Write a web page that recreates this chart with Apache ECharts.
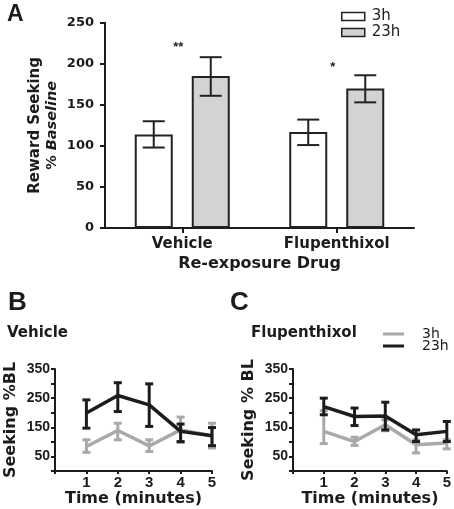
<!DOCTYPE html>
<html><head><meta charset="utf-8">
<script src="https://cdn.jsdelivr.net/npm/echarts@6/dist/echarts.min.js"></script>
<style>html,body{margin:0;padding:0;background:#fff}#c{width:454px;height:509px}</style>
</head><body><div id="c"></div>
<script>
// ---- Panel A data ----
const drugCats = ['Vehicle', 'Flupenthixol'];
const a3hMean = [114, 117];
const a3hLow = [98, 101];
const a3hHigh = [130, 132];
const a23hMean = [185, 170];
const a23hLow = [161, 153];
const a23hHigh = [208, 186];
const sigLabels = ['**', '*'];
const sigLevel = [220, 195];
const aTicks = [0, 50, 100, 150, 200, 250];

// ---- Panels B & C data ----
const minutes = [1, 2, 3, 4, 5];
const veh3hMean = [84, 139, 86, 141, 121];
const veh3hLow = [64, 107, 67, 98, 79];
const veh3hHigh = [107, 164, 107, 185, 164];
const veh23hMean = [199, 259, 227, 136, 121];
const veh23hLow = [147, 204, 153, 101, 87];
const veh23hHigh = [244, 303, 299, 161, 149];

const flu3hMean = [136, 101, 159, 90, 96];
const flu3hLow = [94, 88, 138, 62, 76];
const flu3hHigh = [207, 116, 176, 107, 107];
const flu23hMean = [221, 187, 189, 124, 136];
const flu23hLow = [193, 156, 141, 101, 101];
const flu23hHigh = [250, 216, 236, 141, 170];

const BOLD = 'DejaVu Sans';
const ARIAL = 'Liberation Sans';
const BLACK = '#1c1c1c';
const GREY = '#a9a9a9';

function zip3(a, b, c) { return a.map((v, i) => [v, b[i], c[i]]); }
function pairs(xs, ys) { return xs.map((v, i) => [v, ys[i]]); }

const BAR_W = 38, BAR_GAP = 19;
function barErr(offset) {
  return function (params, api) {
    const i = api.value(0);
    const lo = api.coord([i, api.value(1)]);
    const hi = api.coord([i, api.value(2)]);
    const x = lo[0] + offset, cap = 11;
    const st = { stroke: '#222', lineWidth: 2 };
    return { type: 'group', children: [
      { type: 'line', shape: { x1: x, y1: lo[1], x2: x, y2: hi[1] }, style: st },
      { type: 'line', shape: { x1: x - cap, y1: lo[1], x2: x + cap, y2: lo[1] }, style: st },
      { type: 'line', shape: { x1: x - cap, y1: hi[1], x2: x + cap, y2: hi[1] }, style: st }
    ] };
  };
}
function lineErr(color) {
  return function (params, api) {
    const lo = api.coord([api.value(0), api.value(1)]);
    const hi = api.coord([api.value(0), api.value(2)]);
    const x = lo[0], cap = 4;
    const st = { stroke: color, lineWidth: 3 };
    return { type: 'group', children: [
      { type: 'line', shape: { x1: x, y1: lo[1], x2: x, y2: hi[1] }, style: st },
      { type: 'line', shape: { x1: x - cap, y1: lo[1], x2: x + cap, y2: lo[1] }, style: st },
      { type: 'line', shape: { x1: x - cap, y1: hi[1], x2: x + cap, y2: hi[1] }, style: st }
    ] };
  };
}

const axLine = { show: true, onZero: false, lineStyle: { color: BLACK, width: 2 } };
const axTick = (len) => ({ show: true, length: len, lineStyle: { color: BLACK, width: 2 } });

function smallXAxis(gi) {
  return {
    gridIndex: gi, type: 'value', min: 0, max: 5, interval: 1,
    axisLine: axLine, axisTick: axTick(3), splitLine: { show: false },
    axisLabel: { margin: 4, color: BLACK, fontFamily: ARIAL, fontWeight: 'bold', fontSize: 15,
      formatter: v => (v === 0 ? '' : String(v)) },
    name: 'Time (minutes)', nameLocation: 'middle', nameGap: 20,
    nameTextStyle: { color: BLACK, fontFamily: BOLD, fontWeight: 'bold', fontSize: 16 }
  };
}
function smallYAxis(gi, nm) {
  return {
    gridIndex: gi, type: 'value', min: 0, max: 350, interval: 50,
    axisLine: axLine, axisTick: axTick(4), splitLine: { show: false },
    axisLabel: { margin: 5, color: BLACK, fontFamily: ARIAL, fontWeight: 'bold', fontSize: 14,
      formatter: v => (v % 100 === 50 ? String(v) : '') },
    name: nm, nameLocation: 'middle', nameGap: 36, nameRotate: 90,
    nameTextStyle: { color: BLACK, fontFamily: BOLD, fontWeight: 'bold', fontSize: 16 }
  };
}

const option = {
  animation: false,
  backgroundColor: '#fff',
  title: [
    { text: 'A', left: 7, top: 3, padding: 0, textStyle: { fontFamily: ARIAL, fontWeight: 'bold', fontSize: 23, color: BLACK } },
    { text: 'B', left: 8, top: 290, padding: 0, textStyle: { fontFamily: ARIAL, fontWeight: 'bold', fontSize: 26, color: BLACK } },
    { text: 'C', left: 230, top: 290, padding: 0, textStyle: { fontFamily: ARIAL, fontWeight: 'bold', fontSize: 26, color: BLACK } },
    { text: 'Vehicle', left: 7, top: 326, padding: 0, textStyle: { fontFamily: BOLD, fontWeight: 'bold', fontSize: 15, color: BLACK } },
    { text: 'Flupenthixol', left: 251, top: 326, padding: 0, textStyle: { fontFamily: BOLD, fontWeight: 'bold', fontSize: 15, color: BLACK } }
  ],
  legend: [
    { orient: 'vertical', left: 341, top: 9, padding: 0, itemWidth: 23, itemHeight: 8, itemGap: 1,
      icon: 'rect', selectedMode: false,
      data: [
        { name: '3h', itemStyle: { color: '#fff', borderColor: '#222', borderWidth: 1.5 } },
        { name: '23h', itemStyle: { color: '#d3d3d3', borderColor: '#222', borderWidth: 1.5 } }
      ],
      textStyle: { fontFamily: 'DejaVu Sans', fontSize: 15, color: BLACK, padding: [0, 0, 0, 2] } },
    { orient: 'vertical', left: 383, top: 327, padding: 0, itemWidth: 21, itemHeight: 3, itemGap: -2,
      icon: 'rect', selectedMode: false,
      data: [
        { name: '3h', itemStyle: { color: GREY, borderWidth: 0 } },
        { name: '23h', itemStyle: { color: BLACK, borderWidth: 0 } }
      ],
      textStyle: { fontFamily: 'DejaVu Sans', fontSize: 14, color: BLACK, padding: [0, 0, 0, 13] } }
  ],
  grid: [
    { left: 105, top: 22.7, width: 309, height: 205.3 },
    { left: 55, top: 369, width: 157, height: 102 },
    { left: 293, top: 369, width: 155, height: 102 }
  ],
  xAxis: [
    { gridIndex: 0, type: 'category', data: drugCats,
      axisLine: axLine, axisTick: Object.assign(axTick(5), { alignWithLabel: true }),
      axisLabel: { margin: 9, color: BLACK, fontFamily: BOLD, fontWeight: 'bold', fontSize: 15 },
      name: 'Re-exposure Drug', nameLocation: 'middle', nameGap: 28,
      nameTextStyle: { color: BLACK, fontFamily: BOLD, fontWeight: 'bold', fontSize: 16 } },
    smallXAxis(1), smallXAxis(2)
  ],
  yAxis: [
    { gridIndex: 0, type: 'value', min: aTicks[0], max: aTicks[aTicks.length - 1], interval: 50,
      axisLine: axLine, axisTick: axTick(5), splitLine: { show: false },
      axisLabel: { margin: 11, color: BLACK, fontFamily: BOLD, fontWeight: 'bold', fontSize: 13 },
      name: '{a|Reward Seeking}\n{b|% }{c|Baseline}', nameLocation: 'middle', nameGap: 44, nameRotate: 90,
      nameMoveOverlap: false,
      nameTextStyle: { color: BLACK, align: 'center',
        rich: {
          a: { fontFamily: BOLD, fontWeight: 'bold', fontSize: 15, color: BLACK, lineHeight: 17 },
          b: { fontFamily: BOLD, fontWeight: 'bold', fontSize: 14.5, color: BLACK, lineHeight: 17 },
          c: { fontFamily: BOLD, fontWeight: 'bold', fontStyle: 'italic', fontSize: 14.5, color: BLACK, lineHeight: 17 }
        } } },
    smallYAxis(1, 'Seeking %BL'), smallYAxis(2, 'Seeking % BL')
  ],
  series: [
    { name: '3h', type: 'bar', xAxisIndex: 0, yAxisIndex: 0, data: a3hMean, barWidth: BAR_W, barGap: '50%',
      itemStyle: { color: '#fff', borderColor: '#222', borderWidth: 2 } },
    { name: '23h', type: 'bar', xAxisIndex: 0, yAxisIndex: 0, data: a23hMean, barWidth: BAR_W, barGap: '50%',
      itemStyle: { color: '#d3d3d3', borderColor: '#222', borderWidth: 2 } },
    { type: 'custom', xAxisIndex: 0, yAxisIndex: 0, z: 5, renderItem: barErr(-(BAR_W + BAR_GAP) / 2),
      data: drugCats.map((c, i) => [i, a3hLow[i], a3hHigh[i]]) },
    { type: 'custom', xAxisIndex: 0, yAxisIndex: 0, z: 5, renderItem: barErr((BAR_W + BAR_GAP) / 2),
      data: drugCats.map((c, i) => [i, a23hLow[i], a23hHigh[i]]) },
    { type: 'custom', xAxisIndex: 0, yAxisIndex: 0, z: 5,
      renderItem: function (params, api) {
        const p = api.coord([api.value(0), api.value(1)]);
        return { type: 'text', x: p[0] - 4, y: p[1],
          style: { text: sigLabels[params.dataIndex], fontFamily: ARIAL, fontWeight: 'bold', fontSize: 13,
            fill: BLACK, align: 'center', verticalAlign: 'middle' } };
      },
      data: drugCats.map((c, i) => [i, sigLevel[i]]) },

    // Panel B
    { name: '3h', type: 'line', xAxisIndex: 1, yAxisIndex: 1, data: pairs(minutes, veh3hMean), symbol: 'none',
      lineStyle: { color: GREY, width: 3.5 }, itemStyle: { color: GREY }, z: 2 },
    { type: 'custom', xAxisIndex: 1, yAxisIndex: 1, renderItem: lineErr(GREY), z: 2,
      data: zip3(minutes, veh3hLow, veh3hHigh) },
    { name: '23h', type: 'line', xAxisIndex: 1, yAxisIndex: 1, data: pairs(minutes, veh23hMean), symbol: 'none',
      lineStyle: { color: BLACK, width: 3.5 }, itemStyle: { color: BLACK }, z: 3 },
    { type: 'custom', xAxisIndex: 1, yAxisIndex: 1, renderItem: lineErr(BLACK), z: 3,
      data: zip3(minutes, veh23hLow, veh23hHigh) },

    // Panel C
    { name: '3h', type: 'line', xAxisIndex: 2, yAxisIndex: 2, data: pairs(minutes, flu3hMean), symbol: 'none',
      lineStyle: { color: GREY, width: 3.5 }, itemStyle: { color: GREY }, z: 2 },
    { type: 'custom', xAxisIndex: 2, yAxisIndex: 2, renderItem: lineErr(GREY), z: 2,
      data: zip3(minutes, flu3hLow, flu3hHigh) },
    { name: '23h', type: 'line', xAxisIndex: 2, yAxisIndex: 2, data: pairs(minutes, flu23hMean), symbol: 'none',
      lineStyle: { color: BLACK, width: 3.5 }, itemStyle: { color: BLACK }, z: 3 },
    { type: 'custom', xAxisIndex: 2, yAxisIndex: 2, renderItem: lineErr(BLACK), z: 3,
      data: zip3(minutes, flu23hLow, flu23hHigh) }
  ]
};
const chart = echarts.init(document.getElementById('c'), null, { renderer: 'canvas' });
chart.setOption(option);
</script></body></html>
